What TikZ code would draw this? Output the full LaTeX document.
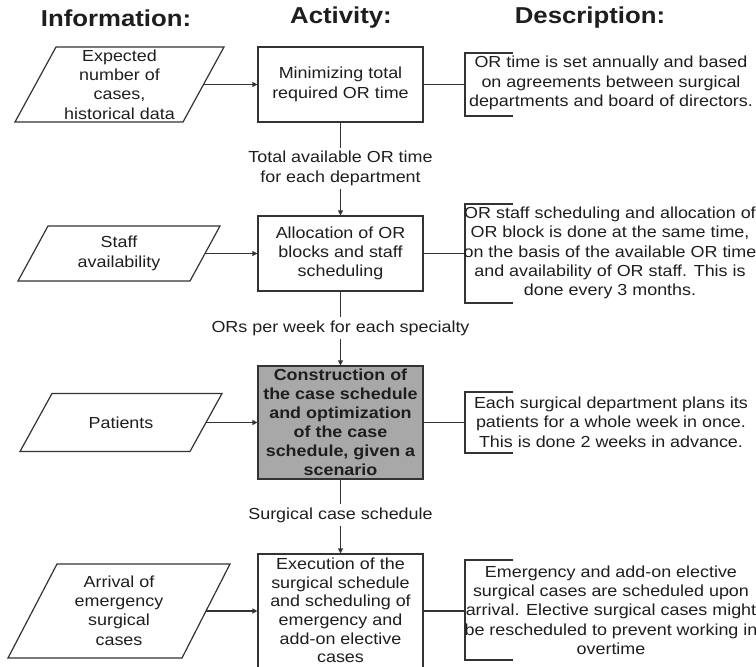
\documentclass[tikz,border=0pt]{standalone}
\usepackage{fontspec}
\setmainfont{Liberation Sans}[FakeStretch=1.12]
\usetikzlibrary{arrows.meta}
\definecolor{ln}{HTML}{333333}
\definecolor{tx}{HTML}{1E1E1E}
\definecolor{boxgray}{HTML}{A8A8A8}
\begin{document}
\begin{tikzpicture}[x=1pt,y=-1pt,
  every node/.style={text=tx, font=\fontsize{16}{19.3}\selectfont},
  head/.style={font=\fontsize{23}{27}\selectfont\bfseries},
  actbox/.style={draw=ln, line width=1.2pt, fill=white, minimum width=165pt, align=center, inner sep=0pt},
  grayfill/.style={fill=boxgray, font=\fontsize{16}{19}\selectfont\bfseries},
  ptext/.style={align=center, inner sep=0pt},
  tighttext/.style={align=center, inner sep=0pt, font=\fontsize{16}{18.7}\selectfont},
  desc/.style={align=center, inner sep=0pt},
  lbl/.style={align=center, inner sep=3pt},
  conn/.style={draw=ln, line width=1.2pt},
  arr/.style={conn, -{Triangle[length=5pt,width=5pt]}},
  shp/.style={draw=ln, line width=1.2pt, line join=miter}]
\useasboundingbox (0,0) rectangle (756,667);

% headers
\node[head] (h1) at (116,18) {Information:};
\node[head] (h2) at (341,18) {Activity:};
\node[head] (h3) at (590,18) {Description:};

% activity boxes
\node[actbox, minimum height=75pt] (b1) at (340.5,84.5) {Minimizing total\\required OR time};
\node[actbox, minimum height=75pt] (b2) at (340.5,253.5) {Allocation of OR\\blocks and staff\\scheduling};
\node[actbox, grayfill, minimum height=113pt] (b3) at (340.5,422.5) {Construction of\\the case schedule\\and optimization\\of the case\\schedule, given a\\scenario};
\node[actbox, minimum height=114pt] (b4) at (340.5,611) {};
\node[tighttext] (b4t) at (340.5,610.5) {Execution of the\\surgical schedule\\and scheduling of\\emergency and\\add-on elective\\cases};

% flow labels
\node[lbl] (l1) at (340.5,168.5) {Total available OR time\\for each department};
\node[lbl] (l2) at (340.5,328) {ORs per week for each specialty};
\node[lbl] (l3) at (340.5,515) {Surgical case schedule};

\draw[conn] (b1.south) -- (l1.north);
\draw[arr] (l1.south) -- (b2.north);
\draw[conn] (b2.south) -- (l2.north);
\draw[arr] (l2.south) -- (b3.north);
\draw[conn] (b3.south) -- (l3.north);
\draw[arr] (l3.south) -- (b4.north);

% information parallelograms
\draw[shp] (56,47) -- (224,47) -- (183,122) -- (15,122) -- cycle;
\node[ptext] (p1) at (119.5,84.5) {Expected\\number of\\cases,\\historical data};
\coordinate (p1r) at (203.5,84.5);

\draw[shp] (48,226) -- (220,226) -- (190,281) -- (18,281) -- cycle;
\node[ptext] (p2) at (119,253.5) {Staff\\availability};
\coordinate (p2r) at (205,253.5);

\draw[shp] (52,393.5) -- (222,393.5) -- (190,451.5) -- (20,451.5) -- cycle;
\node[ptext] (p3) at (121,422.5) {Patients};
\coordinate (p3r) at (206,422.5);

\draw[shp] (57,564) -- (230,564) -- (182,658) -- (8,658) -- cycle;
\node[ptext] (p4) at (119,610.5) {Arrival of\\emergency\\surgical\\cases};
\coordinate (p4r) at (206,611);

\draw[arr] (p1r) -- (b1.west);
\draw[arr] (p2r) -- (b2.west);
\draw[arr] (p3r) -- (b3.west);
\draw[arr] (p4r) -- (b4.west);

% description brackets
\draw[shp] (513,53) -- (465,53) -- (465,116) -- (513,116);
\coordinate (d1) at (465,84.5);
\draw[shp] (513,204) -- (465,204) -- (465,303) -- (513,303);
\coordinate (d2) at (465,253.5);
\draw[shp] (513,392) -- (465,392) -- (465,453) -- (513,453);
\coordinate (d3) at (465,422.5);
\draw[shp] (513,560) -- (465,560) -- (465,660) -- (513,660);
\coordinate (d4) at (465,611);

\draw[conn] (b1.east) -- (d1);
\draw[conn] (b2.east) -- (d2);
\draw[conn] (b3.east) -- (d3);
\draw[conn] (b4.east) -- (d4);

\node[desc] (t1) at (611,83) {OR time is set annually and based\\on agreements between surgical\\departments and board of directors.};
\node[desc] (t2) at (610,253) {OR staff scheduling and allocation of\\OR block is done at the same time,\\on the basis of the available OR time\\and availability of OR staff. This is\\done every 3 months.};
\node[desc] (t3) at (611,422) {Each surgical department plans its\\patients for a whole week in once.\\This is done 2 weeks in advance.};
\node[desc] (t4) at (611,610) {Emergency and add-on elective\\surgical cases are scheduled upon\\arrival. Elective surgical cases might\\be rescheduled to prevent working in\\overtime};
\end{tikzpicture}
\end{document}
